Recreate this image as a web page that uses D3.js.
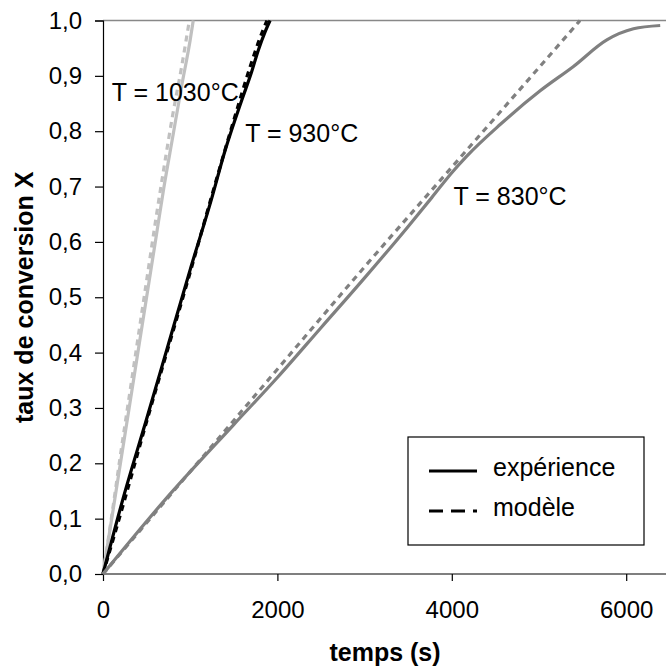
<!DOCTYPE html>
<html>
<head>
<meta charset="utf-8">
<script src="https://cdn.jsdelivr.net/npm/d3@7"></script>
<style>
  body { margin: 0; background: #fff; }
  svg { display: block; font-family: "Liberation Sans", Arial, sans-serif; }
</style>
</head>
<body>
<svg id="chart" width="666" height="670"></svg>
<script>
// conversion X vs time (s), experiment and model at three temperatures
const exp1030 = [[0,0],[100,0.10],[200,0.20],[300,0.30],[400,0.40],[500,0.50],[600,0.60],[700,0.70],[800,0.79],[900,0.88],[1000,0.965],[1035,1.0]];
const mod1030 = [[0,0],[100,0.105],[200,0.215],[300,0.32],[400,0.425],[500,0.53],[600,0.635],[700,0.735],[800,0.83],[900,0.915],[990,1.0]];

const exp930 = [[0,0],[226,0.134],[500,0.28],[750,0.415],[1000,0.55],[1240,0.675],[1400,0.765],[1591,0.856],[1700,0.905],[1780,0.946],[1860,0.98],[1916,1.0]];
const mod930 = [[0,0],[250,0.135],[500,0.275],[750,0.41],[1000,0.545],[1250,0.685],[1500,0.82],[1686,0.916],[1780,0.96],[1880,1.0]];

const exp830 = [[0,0],[711,0.134],[1500,0.27],[2000,0.355],[2500,0.445],[3000,0.535],[3500,0.628],[3770,0.68],[4000,0.725],[4172,0.755],[4554,0.812],[5013,0.873],[5395,0.917],[5778,0.965],[6083,0.985],[6390,0.991]];
const mod830 = [[0,0],[1000,0.185],[2000,0.37],[3000,0.555],[4000,0.735],[5000,0.915],[5470,1.0]];

const xTicks = [0, 2000, 4000, 6000];
const yTicks = [0, 0.1, 0.2, 0.3, 0.4, 0.5, 0.6, 0.7, 0.8, 0.9, 1.0];

const series = [
    {data: exp1030, color: "#c0c0c0", dash: null},
    {data: mod1030, color: "#c0c0c0", dash: "6,5"},
    {data: exp930, color: "#000000", dash: null},
    {data: mod930, color: "#000000", dash: "6,5"},
    {data: exp830, color: "#808080", dash: null},
    {data: mod830, color: "#808080", dash: "6,5"}
];

const labels = [
    {text: "T = 1030°C", t: 100, X: 0.855},
    {text: "T = 930°C", t: 1630, X: 0.78},
    {text: "T = 830°C", t: 4020, X: 0.666}
];

const svg = d3.select("#chart");

const x = d3.scaleLinear().domain([0, 6500]).range([103, 669.8]);
const y = d3.scaleLinear().domain([0, 1]).range([574, 20.5]);

const fmtY = d => d3.format(".1f")(d).replace(".", ",");

// top border of plot area
svg.append("line")
    .attr("x1", x(0)).attr("x2", 666)
    .attr("y1", y(1)).attr("y2", y(1))
    .attr("stroke", "#888").attr("stroke-width", 1.5);

// axes
const yAxis = svg.append("g")
    .attr("transform", `translate(${x(0)},0)`)
    .call(d3.axisLeft(y).tickValues(yTicks).tickFormat(fmtY).tickSize(8).tickPadding(13));

const xAxis = svg.append("g")
    .attr("transform", `translate(0,${y(0)})`)
    .call(d3.axisBottom(x).tickValues(xTicks).tickFormat(d3.format("d")).tickSize(7).tickPadding(20));

[yAxis, xAxis].forEach(a => {
    a.select(".domain").attr("stroke", "#000").attr("stroke-width", 1.2);
    a.selectAll(".tick line").attr("stroke", "#000").attr("stroke-width", 1.2);
    a.selectAll(".tick text").attr("fill", "#000").style("font-size", "24px").style("font-family", "Liberation Sans, Arial, sans-serif");
});
xAxis.select(".domain").attr("d", `M${x(0)},0H666`);

// curves
const line = d3.line().x(d => x(d[0])).y(d => y(d[1])).curve(d3.curveMonotoneX);

svg.append("g").selectAll("path")
    .data(series)
    .join("path")
    .attr("d", d => line(d.data))
    .attr("fill", "none")
    .attr("stroke", d => d.color)
    .attr("stroke-width", 3.2)
    .attr("stroke-dasharray", d => d.dash);

// temperature labels
svg.append("g").selectAll("text")
    .data(labels)
    .join("text")
    .attr("x", d => x(d.t))
    .attr("y", d => y(d.X))
    .style("font-size", "25px")
    .text(d => d.text);

// axis titles
svg.append("text")
    .attr("x", 385)
    .attr("y", 661)
    .attr("text-anchor", "middle")
    .style("font-size", "25px")
    .style("font-weight", "bold")
    .text("temps (s)");

svg.append("text")
    .attr("transform", `translate(33,${(y(0) + y(1)) / 2}) rotate(-90)`)
    .attr("text-anchor", "middle")
    .style("font-size", "25px")
    .style("font-weight", "bold")
    .text("taux de conversion X");

// legend
const legend = svg.append("g");
legend.append("rect")
    .attr("x", 408).attr("y", 437)
    .attr("width", 236).attr("height", 108)
    .attr("fill", "#fff").attr("stroke", "#000").attr("stroke-width", 1.2);

const legendItems = [
    {name: "expérience", dash: null, ly: 471},
    {name: "modèle", dash: "14,8", ly: 511}
];
legendItems.forEach(d => {
    legend.append("line")
        .attr("x1", 429).attr("x2", 477)
        .attr("y1", d.ly).attr("y2", d.ly)
        .attr("stroke", "#000").attr("stroke-width", 3)
        .attr("stroke-dasharray", d.dash);
    legend.append("text")
        .attr("x", 493).attr("y", d.ly + 5)
        .style("font-size", "25px")
        .text(d.name);
});
</script>
</body>
</html>
